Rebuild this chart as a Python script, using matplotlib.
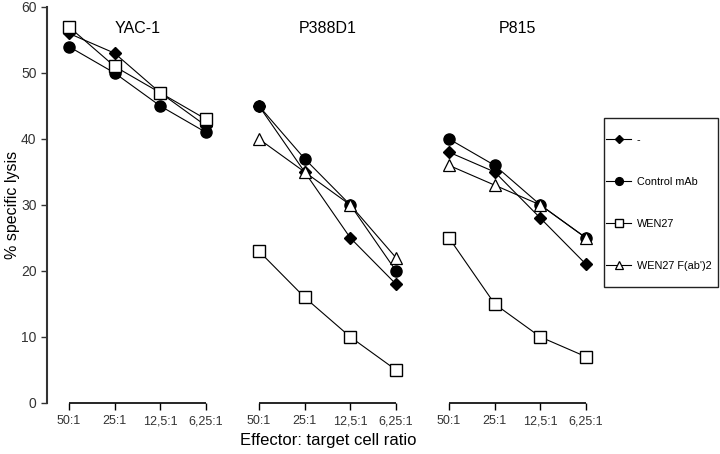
import matplotlib
matplotlib.use("Agg")
import matplotlib.pyplot as plt
from matplotlib.patches import Rectangle
import numpy as np

plt.rcParams["font.family"] = ["Liberation Sans", "DejaVu Sans"]

# data
ratios = ["50:1", "25:1", "12,5:1", "6,25:1"]
targets = ["YAC-1", "P388D1", "P815"]
series = ["-", "Control mAb", "WEN27", "WEN27 F(ab')2"]

lysis_none = [[56, 53, 47, 42], [45, 35, 25, 18], [38, 35, 28, 21]]
lysis_ctrl = [[54, 50, 45, 41], [45, 37, 30, 20], [40, 36, 30, 25]]
lysis_wen27 = [[57, 51, 47, 43], [23, 16, 10, 5], [25, 15, 10, 7]]
lysis_fab = [[np.nan] * 4, [40, 35, 30, 22], [36, 33, 30, 25]]

GROUP_STEP = 4.16
styles = [
    dict(marker="D", ms=6.5, mfc="black", mec="black"),
    dict(marker="o", ms=8, mfc="black", mec="black"),
    dict(marker="s", ms=8.5, mfc="white", mec="black", mew=1.0),
    dict(marker="^", ms=9, mfc="white", mec="black", mew=0.9),
]

fig = plt.figure(figsize=(7.2, 4.54), dpi=100)
ax = fig.add_axes([47 / 720, 51 / 454, 673 / 720, 396 / 454])
ax.set_xlim(-0.48, 14.25)
ax.set_ylim(0, 60)

xs_all, labels_all = [], []
for g, tgt in enumerate(targets):
    x = np.arange(4) + g * GROUP_STEP
    xs_all.extend(x)
    labels_all.extend(ratios)
    for s, vals in enumerate([lysis_none, lysis_ctrl, lysis_wen27, lysis_fab]):
        ax.plot(x, vals[g], color="black", lw=0.8, clip_on=False,
                label=series[s] if g == 1 else None, **styles[s])
    ax.plot([x[0], x[-1]], [0, 0], color="black", lw=1.2, clip_on=False,
            solid_capstyle="butt")
    ax.text(x.mean(), 56.7, tgt, ha="center", va="center", fontsize=11.5)

ax.set_xticks(xs_all)
ax.set_xticklabels(labels_all, fontsize=9, color="#333333")
ax.set_yticks(range(0, 61, 10))
ax.tick_params(axis="y", labelsize=10, colors="#333333", length=4, width=1)
ax.tick_params(axis="x", length=5, width=1, pad=4)
for sp in ["top", "right", "bottom"]:
    ax.spines[sp].set_visible(False)
ax.spines["left"].set_linewidth(1.5)
ax.spines["left"].set_color("#333333")

ax.set_ylabel("% specific lysis", fontsize=11.5)
ax.yaxis.set_label_coords(-27 / 673, 0.5)
fig.text(328 / 720, 1 - 440 / 454, "Effector: target cell ratio",
         ha="center", va="center", fontsize=12)

# legend without its own frame, boxed by a rectangle like the original
handles, labels = ax.get_legend_handles_labels()
fig.legend(handles, labels, loc="upper left",
           bbox_to_anchor=(606 / 720, 1 - 135 / 454),
           fontsize=7.8, frameon=False,
           handlelength=2.35, handletextpad=0.5, labelspacing=2.95,
           borderpad=0, markerscale=0.7, borderaxespad=0)
fig.patches.append(Rectangle((604 / 720, 1 - 287 / 454), 113.5 / 720, 169 / 454,
                             transform=fig.transFigure, fill=False,
                             edgecolor="#222222", lw=1.0))

fig.savefig("out.png", dpi=100)
